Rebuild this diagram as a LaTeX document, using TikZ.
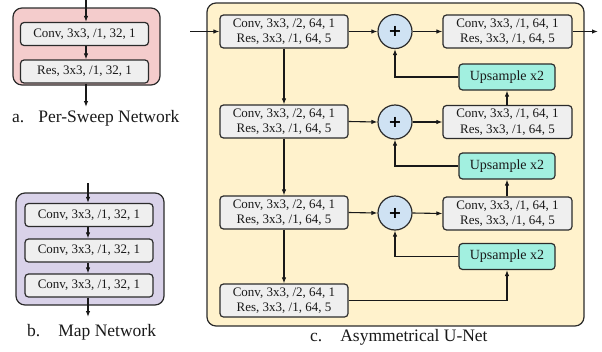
\documentclass[tikz,border=0pt]{standalone}
\usepackage{fontspec}
\setmainfont{Liberation Serif}
\newfontfamily\plusfont{DejaVu Sans}
\usetikzlibrary{arrows.meta,calc}
\definecolor{pinkbg}{HTML}{F4CCCC}
\definecolor{purplebg}{HTML}{D9D2E9}
\definecolor{yellowbg}{HTML}{FFF2CC}
\definecolor{boxgray}{HTML}{EFEFEF}
\definecolor{upcol}{HTML}{A2F0E0}
\definecolor{pluscol}{HTML}{CFE2F3}
\definecolor{edge}{HTML}{2B2B2B}
\begin{document}
\begin{tikzpicture}[x=1pt,y=-1pt,
  blk/.style={draw=edge, line width=1.2pt, rounded corners=3.5pt, fill=boxgray, inner sep=0pt,
    font=\fontsize{13}{15.5}\selectfont, align=center, text=black!90},
  onebox/.style={blk, minimum width=128pt, minimum height=23pt},
  twobox/.style={blk, minimum width=128pt, minimum height=33pt},
  upbox/.style={blk, fill=upcol, minimum width=96pt, minimum height=26pt, font=\fontsize{14}{16}\selectfont},
  outerbox/.style={draw=edge, line width=1.2pt, rounded corners=9pt, inner sep=0pt},
  plus/.style={circle, draw=edge, line width=1.2pt, fill=pluscol, minimum size=34pt, inner sep=0pt, font=\plusfont\bfseries\fontsize{16}{16}\selectfont},
  arr/.style={-{Latex[length=6pt,width=4.5pt]}, line width=1.1pt, draw=black!90},
  lbl/.style={anchor=west, inner sep=0pt, font=\fontsize{17.5}{19}\selectfont, text=black!90},
  ]
\useasboundingbox (0,0) rectangle (602,351);

% ---------- a. Per-Sweep Network ----------
\node[outerbox, fill=pinkbg, minimum width=147pt, minimum height=77pt] (pa) at (86.5,46.5) {};
\node[onebox] (aconv) at (84.5,34) {Conv, 3x3, /1, 32, 1};
\node[onebox] (ares) at (84.5,71.5) {Res, 3x3, /1, 32, 1};
\coordinate (ain) at (86,0);
\coordinate (aout) at (86,107);
\draw[arr] (ain) -- (ain |- aconv.north);
\draw[arr] (ain |- aconv.south) -- (ain |- ares.north);
\draw[arr] (ain |- ares.south) -- (aout);
\node[lbl] (alab) at (12,118) {a.\hspace{14pt}Per-Sweep Network};

% ---------- b. Map Network ----------
\node[outerbox, fill=purplebg, minimum width=148pt, minimum height=112pt] (pb) at (90,249) {};
\node[onebox] (bc1) at (89,215) {Conv, 3x3, /1, 32, 1};
\node[onebox] (bc2) at (89,250.5) {Conv, 3x3, /1, 32, 1};
\node[onebox] (bc3) at (89,285.5) {Conv, 3x3, /1, 32, 1};
\coordinate (bin) at (88,183);
\coordinate (bout) at (88,317);
\draw[arr] (bin) -- (bin |- bc1.north);
\draw[arr] (bin |- bc1.south) -- (bin |- bc2.north);
\draw[arr] (bin |- bc2.south) -- (bin |- bc3.north);
\draw[arr] (bin |- bc3.south) -- (bout);
\node[lbl] (blab) at (27,332) {b.\hspace{18pt}Map Network};

% ---------- c. Asymmetrical U-Net ----------
\node[outerbox, fill=yellowbg, minimum width=377pt, minimum height=323pt] (pc) at (395.5,164.5) {};

\node[twobox] (e1) at (284,31.5) {Conv, 3x3, /2, 64, 1\\Res, 3x3, /1, 64, 5};
\node[twobox] (e2) at (284,121.5) {Conv, 3x3, /2, 64, 1\\Res, 3x3, /1, 64, 5};
\node[twobox] (e3) at (284,212.5) {Conv, 3x3, /2, 64, 1\\Res, 3x3, /1, 64, 5};
\node[twobox] (e4) at (284,300.5) {Conv, 3x3, /2, 64, 1\\Res, 3x3, /1, 64, 5};

\node[plus] (p1) at (395,31.5) {+};
\node[plus] (p2) at (395,122) {+};
\node[plus] (p3) at (395,213) {+};

\node[twobox, minimum width=129pt] (d1) at (507.5,31.5) {Conv, 3x3, /1, 64, 1\\Res, 3x3, /1, 64, 5};
\node[twobox, minimum width=129pt] (d2) at (507.5,122) {Conv, 3x3, /1, 64, 1\\Res, 3x3, /1, 64, 5};
\node[twobox, minimum width=129pt] (d3) at (507.5,213.5) {Conv, 3x3, /1, 64, 1\\Res, 3x3, /1, 64, 5};

\node[upbox] (u1) at (507,77) {Upsample x2};
\node[upbox] (u2) at (507,166) {Upsample x2};
\node[upbox] (u3) at (507,256.5) {Upsample x2};

\coordinate (cin) at (190,31.5);
\coordinate (cout) at (598,31.5);

\draw[arr] (cin) -- (e1.west);
\draw[arr] (e1.east) -- (p1.west);
\draw[arr] (e2.east) -- (p2.west);
\draw[arr] (e3.east) -- (p3.west);
\draw[arr] (e1.south) -- (e2.north);
\draw[arr] (e2.south) -- (e3.north);
\draw[arr] (e3.south) -- (e4.north);
\draw[arr] (p1.east) -- (d1.west);
\draw[arr] (p2.east) -- (d2.west);
\draw[arr] (p3.east) -- (d3.west);
\draw[arr] (d1.east) -- (cout);
\draw[arr] (u1.west) -| (p1.south);
\draw[arr] (u2.west) -| (p2.south);
\draw[arr] (u3.west) -| (p3.south);
\draw[arr] (d2.north -| u1.south) -- (u1.south);
\draw[arr] (d3.north -| u2.south) -- (u2.south);
\draw[arr] (e4.east) -| (u3.south);

\node[lbl] (clab) at (310,337) {c.\hspace{18pt}Asymmetrical U-Net};
\end{tikzpicture}
\end{document}
